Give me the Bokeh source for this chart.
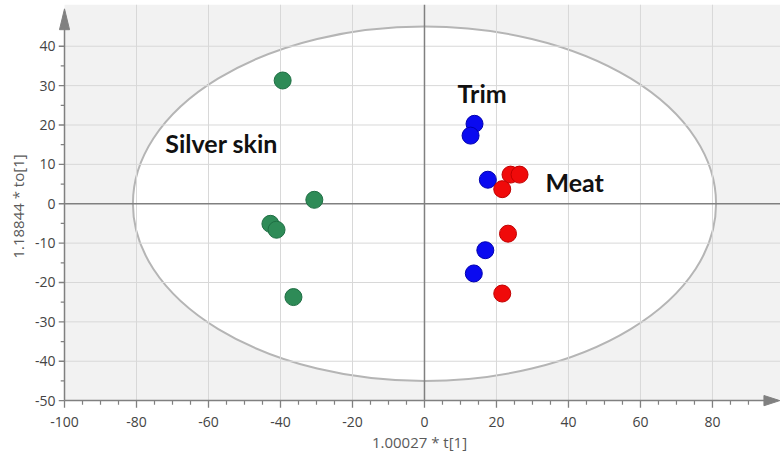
from bokeh.plotting import figure
from bokeh.models import FixedTicker, ColumnDataSource
from bokeh.core.properties import value
from bokeh.embed import file_html
from bokeh.resources import INLINE

# ---- data ----
silver_x = [-39.4, -30.6, -42.8, -41.1, -36.4]
silver_y = [31.3, 1.0, -5.1, -6.6, -23.7]
trim_x = [13.9, 12.8, 17.6, 16.9, 13.7]
trim_y = [20.3, 17.3, 6.1, -11.8, -17.7]
meat_x = [23.9, 26.4, 21.6, 23.2, 21.6]
meat_y = [7.4, 7.4, 3.7, -7.6, -22.8]

group_names = ["Silver skin", "Trim", "Meat"]
label_x = [-72.0, 9.2, 33.6]
label_y = [15.3, 28.2, 5.6]

ellipse_a = 81.0   # semi-axis along t[1]
ellipse_b = 45.0   # semi-axis along to[1]

x_ticks = [-100, -80, -60, -40, -20, 0, 20, 40, 60, 80]
x_minor = [v for v in range(-95, 95, 5) if v % 20 != 0]
y_ticks = [-50, -40, -30, -20, -10, 0, 10, 20, 30, 40]
y_minor = [v for v in range(-45, 40, 5) if v % 10 != 0]

x_label = "1.00027 * t[1]"
y_label = "1.18844 * to[1]"

# axis extents (plot area) and view ranges
x_lo, x_hi = -100, 98.9
y_lo, y_hi = -50, 49.6
view_x = (-101.67, 98.9)
view_y = (-52.0, 50.6)

# tick lengths in data units (x-axis ticks go down, y-axis ticks go left)
xt_major, xt_minor = 1.78, 1.05
yt_major, yt_minor = 1.67, 1.05

AX = "#808080"

p = figure(width=780, height=462, output_backend="svg", toolbar_location=None,
           x_range=view_x, y_range=view_y,
           min_border_left=58, min_border_bottom=54, min_border_top=4, min_border_right=0)
p.background_fill_color = "white"
p.border_fill_color = "white"
p.outline_line_color = None
p.xgrid.visible = False
p.ygrid.visible = False

xt = FixedTicker(ticks=x_ticks, minor_ticks=[])
yt = FixedTicker(ticks=y_ticks, minor_ticks=[])

# panel axes: only tick labels and titles
xax = p.xaxis[0]
yax = p.yaxis[0]
xax.ticker = xt
yax.ticker = yt
xax.major_label_overrides = {t: str(t) for t in x_ticks}
yax.major_label_overrides = {t: str(t) for t in y_ticks}
for ax in (xax, yax):
    ax.axis_line_color = None
    ax.major_tick_line_color = None
    ax.minor_tick_line_color = None
    ax.major_tick_in = 0
    ax.major_tick_out = 0
    ax.minor_tick_in = 0
    ax.minor_tick_out = 0
    ax.major_label_text_font = "Open Sans"
    ax.major_label_text_font_size = "14px"
    ax.major_label_text_color = "#444444"
    ax.axis_label_text_font = "Open Sans"
    ax.axis_label_text_font_size = "15px"
    ax.axis_label_text_font_style = "normal"
    ax.axis_label_text_color = "#5a5a5a"
xax.axis_label = x_label
yax.axis_label = y_label
xax.major_label_standoff = 8
yax.major_label_standoff = 3
xax.axis_label_standoff = 2
yax.axis_label_standoff = 4

# plot-area background
p.quad(left=[x_lo], right=[view_x[1]], bottom=[y_lo], top=[view_y[1]],
       fill_color="#f2f2f2", line_color=None)

# confidence ellipse
p.ellipse(x=[0], y=[0], width=[2 * ellipse_a], height=[2 * ellipse_b],
          fill_color="white", line_color="#b5b5b5", line_width=2)

# grid lines
gx = [t for t in x_ticks if t not in (x_lo, 0)]
gy = [t for t in y_ticks if t not in (y_lo, 0)]
p.segment(x0=gx, y0=[y_lo] * len(gx), x1=gx, y1=[view_y[1]] * len(gx),
          line_color="#d8d8d8", line_width=1)
p.segment(x0=[x_lo] * len(gy), y0=gy, x1=[view_x[1]] * len(gy), y1=gy,
          line_color="#d8d8d8", line_width=1)

# zero lines
p.segment(x0=[0], y0=[y_lo], x1=[0], y1=[view_y[1]], line_color=AX, line_width=1.5)
p.segment(x0=[x_lo], y0=[0], x1=[view_x[1]], y1=[0], line_color=AX, line_width=1.5)

# axis lines
p.segment(x0=[x_lo, x_lo], y0=[y_lo, y_lo], x1=[x_hi - 2, x_lo], y1=[y_lo, y_hi - 2],
          line_color=AX, line_width=1.5)

# tick marks
p.segment(x0=x_ticks, y0=[y_lo] * len(x_ticks), x1=x_ticks, y1=[y_lo - xt_major] * len(x_ticks),
          line_color=AX, line_width=1.3)
p.segment(x0=x_minor, y0=[y_lo] * len(x_minor), x1=x_minor, y1=[y_lo - xt_minor] * len(x_minor),
          line_color=AX, line_width=1.2)
p.segment(x0=[x_lo] * len(y_ticks), y0=y_ticks, x1=[x_lo - yt_major] * len(y_ticks), y1=y_ticks,
          line_color=AX, line_width=1.3)
p.segment(x0=[x_lo] * len(y_minor), y0=y_minor, x1=[x_lo - yt_minor] * len(y_minor), y1=y_minor,
          line_color=AX, line_width=1.2)

# axis arrowheads
y_arrow_x = [x_lo - 1.4, x_lo, x_lo + 1.4]
y_arrow_y = [44.2, 49.5, 44.2]
x_arrow_x = [94.3, 98.7, 94.3]
x_arrow_y = [y_lo - 1.3, y_lo, y_lo + 1.3]
p.patch(y_arrow_x, y_arrow_y, fill_color=AX, line_color=AX, line_width=1)
p.patch(x_arrow_x, x_arrow_y, fill_color=AX, line_color=AX, line_width=1)

# points
p.scatter(silver_x, silver_y, size=17, fill_color="#2e8b57", line_color="#1e6e43", line_width=1)
p.scatter(trim_x, trim_y, size=17, fill_color="#0a0af0", line_color="#0000b0", line_width=1)
p.scatter(meat_x, meat_y, size=17, fill_color="#f00a0a", line_color="#c00000", line_width=1)

# group labels
src = ColumnDataSource(dict(x=label_x, y=label_y, t=group_names))
p.text(x="x", y="y", text="t", source=src, text_font=value("Lato"), text_font_style="bold",
       text_font_size="25px", text_color="#111111", text_align="left", text_baseline="middle")

open("out.html", "w").write(file_html(p, INLINE))
